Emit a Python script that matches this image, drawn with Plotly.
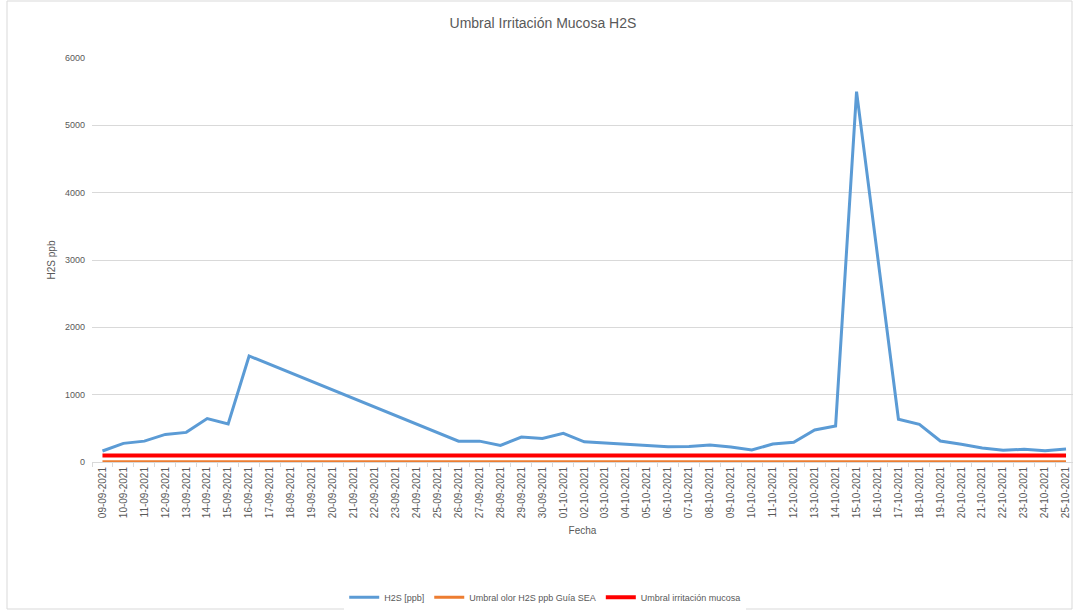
import plotly.graph_objects as go

dates = ["2021-09-09", "2021-09-10", "2021-09-11", "2021-09-12", "2021-09-13", "2021-09-14",
         "2021-09-15", "2021-09-16", "2021-09-26", "2021-09-27", "2021-09-28", "2021-09-29",
         "2021-09-30", "2021-10-01", "2021-10-02", "2021-10-06", "2021-10-07", "2021-10-08",
         "2021-10-09", "2021-10-10", "2021-10-11", "2021-10-12", "2021-10-13", "2021-10-14",
         "2021-10-15", "2021-10-17", "2021-10-18", "2021-10-19", "2021-10-20", "2021-10-21",
         "2021-10-22", "2021-10-23", "2021-10-24", "2021-10-25"]
h2s = [163, 277, 310, 410, 440, 645, 565, 1575, 310, 310, 245, 370,
       350, 425, 300, 228, 232, 252, 223, 178, 267, 293, 475, 535,
       5500, 634, 560, 312, 263, 208, 174, 189, 168, 193]

all_dates = ["2021-09-09", "2021-10-25"]
umbral_olor = [5, 5]
umbral_irritacion = [95, 95]

font = "Liberation Sans"
gray = "#595959"

fig = go.Figure()
fig.add_trace(go.Scatter(x=dates, y=h2s, mode="lines", name="H2S [ppb]",
                         line=dict(color="#5B9BD5", width=3)))
fig.add_trace(go.Scatter(x=all_dates, y=umbral_olor, mode="lines", name="Umbral olor H2S ppb Guía SEA",
                         line=dict(color="#ED7D31", width=3)))
fig.add_trace(go.Scatter(x=all_dates, y=umbral_irritacion, mode="lines", name="Umbral irritación mucosa",
                         line=dict(color="#FF0000", width=4)))

fig.update_layout(
    width=1073, height=610,
    margin=dict(l=92, r=0, t=58, b=148, autoexpand=False),
    paper_bgcolor="white", plot_bgcolor="white",
    font=dict(family=font, color=gray, size=9),
    title=dict(text="Umbral Irritación Mucosa H2S", x=0.506, xanchor="center", y=0.962, yanchor="middle",
               font=dict(family=font, size=14, color=gray)),
    showlegend=True,
    legend=dict(orientation="h", x=0.462, xanchor="center", y=-0.335, yanchor="middle",
                font=dict(size=9, color=gray), itemwidth=30),
    xaxis=dict(type="date", range=["2021-09-08 12:00", "2021-10-25 08:00"],
               tick0="2021-09-09", dtick=86400000, tickformat="%d-%m-%Y", tickangle=-90,
               showgrid=False, showline=True, linecolor="#d9d9d9", linewidth=1,
               ticks="", tickfont=dict(size=10, color=gray), automargin=False,
               minor=dict(ticks="outside", tick0="2021-09-08 12:00", dtick=86400000,
                          ticklen=4, tickcolor="#d9d9d9", showgrid=False),
               title=dict(text="Fecha", font=dict(size=10, color=gray), standoff=9),
               zeroline=False),
    yaxis=dict(range=[0, 6000], dtick=1000, showgrid=True, gridcolor="#d9d9d9", gridwidth=1,
               showline=False, zeroline=False, tickfont=dict(size=9, color=gray),
               ticklabelstandoff=6, automargin=False,
               title=dict(text="H2S ppb", font=dict(size=10, color=gray), standoff=7)),
    shapes=[dict(type="rect", xref="paper", yref="paper",
                 x0=(7 - 92) / 981, x1=(1072 - 92) / 981,
                 y0=(462 - 609) / 404, y1=(462 - 1) / 404,
                 line=dict(color="#d9d9d9", width=1), fillcolor="rgba(0,0,0,0)", layer="below")],
)

fig.write_html("out.html", config={"displayModeBar": False},
               post_script="document.body.style.margin='0';document.body.style.overflow='hidden';")
